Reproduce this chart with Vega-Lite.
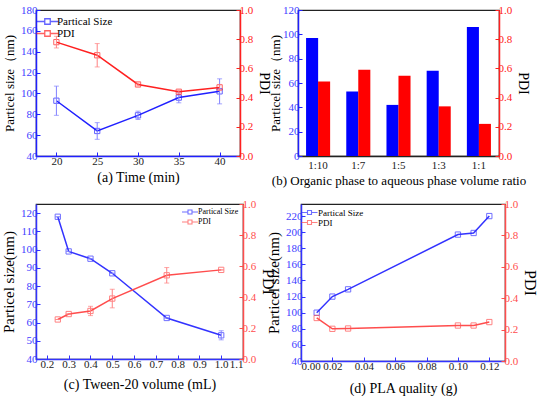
{
  "$schema": "https://vega.github.io/schema/vega-lite/v6.json",
  "padding": {"left": 0, "top": 3, "right": 0, "bottom": 0},
  "config": {
    "font": "'Liberation Serif', 'Times New Roman', serif",
    "view": {"stroke": "#222222", "strokeWidth": 1.2},
    "axis": {
      "grid": false,
      "labelFont": "'Liberation Serif', 'Times New Roman', serif",
      "titleFont": "'Liberation Serif', 'Times New Roman', serif",
      "labelFontSize": 11,
      "titleFontSize": 14,
      "titleFontWeight": "normal",
      "titleColor": "black",
      "labelColor": "#222222",
      "domainWidth": 1.5,
      "tickSize": -4,
      "labelPadding": 3
    },
    "legend": {"labelFont": "'Liberation Serif', 'Times New Roman', serif", "rowPadding": 0}
  },
  "spacing": 9,
  "vconcat": [
    {
      "spacing": -4,
      "resolve": {"scale": {"color": "independent"}, "legend": {"color": "independent"}},
      "hconcat": [
        {
          "width": 204,
          "height": 146,
          "data": {"values": [
            {"time": 20, "size": 93, "size_err": 14, "pdi": 0.78, "pdi_err": 0.04},
            {"time": 25, "size": 64, "size_err": 8, "pdi": 0.69, "pdi_err": 0.08},
            {"time": 30, "size": 79, "size_err": 4, "pdi": 0.49, "pdi_err": 0.01},
            {"time": 35, "size": 96, "size_err": 5, "pdi": 0.44, "pdi_err": 0.01},
            {"time": 40, "size": 102, "size_err": 12, "pdi": 0.47, "pdi_err": 0.02}
          ]},
          "encoding": {
            "x": {"field": "time", "type": "quantitative", "scale": {"domain": [17.5, 42.5]},
              "axis": {"values": [20, 25, 30, 35, 40], "title": "(a) Time (min)", "domainColor": "#2020ff", "tickColor": "#2020ff"}}
          },
          "layer": [
            {
              "encoding": {
                "y": {"field": "size", "type": "quantitative", "scale": {"domain": [40, 180]},
                  "axis": {"orient": "left", "title": "Particel size（nm)", "titleFontSize": 13, "values": [40, 60, 80, 100, 120, 140, 160, 180], "labelColor": "#4040ff", "domainColor": "#2020ff", "tickColor": "#2020ff"}},
                "color": {"datum": "Partical Size", "type": "nominal",
                  "scale": {"domain": ["Partical Size", "PDI"], "range": ["#2020ff", "#ff2020"]},
                  "legend": {"orient": "top-left", "title": null, "labelFontSize": 11, "symbolType": "M-4,0H-1M1,0H4M-1,-1H1V1H-1Z", "symbolSize": 30, "symbolStrokeWidth": 1.3, "symbolFillColor": "transparent", "rowPadding": 0, "offset": 6}}
              },
              "layer": [
                {"mark": {"type": "line", "strokeWidth": 1.5}},
                {"mark": {"type": "point", "shape": "square", "filled": false, "size": 28, "strokeWidth": 1}},
                {"mark": {"type": "errorbar", "ticks": true, "color": "#8080ff"}, "encoding": {"yError": {"field": "size_err"}, "color": {"value": "#8080ff"}}}
              ]
            },
            {
              "encoding": {
                "y": {"field": "pdi", "type": "quantitative", "scale": {"domain": [0, 1]},
                  "axis": {"orient": "right", "title": "PDI", "format": ".1f", "values": [0, 0.2, 0.4, 0.6, 0.8, 1.0], "labelColor": "#ff2020", "domainColor": "#ff2020", "tickColor": "#ff2020"}},
                "color": {"datum": "PDI", "type": "nominal"}
              },
              "layer": [
                {"mark": {"type": "line", "strokeWidth": 1.5}},
                {"mark": {"type": "point", "shape": "square", "filled": false, "size": 28, "strokeWidth": 1}},
                {"mark": {"type": "errorbar", "ticks": true, "color": "#ff8080"}, "encoding": {"yError": {"field": "pdi_err"}, "color": {"value": "#ff8080"}}}
              ]
            }
          ],
          "resolve": {"scale": {"y": "independent"}}
        },
        {
          "width": 201,
          "height": 146,
          "data": {"values": [
            {"ratio": "1:10", "size": 97, "pdi": 0.51},
            {"ratio": "1:7", "size": 53, "pdi": 0.59},
            {"ratio": "1:5", "size": 42, "pdi": 0.55},
            {"ratio": "1:3", "size": 70, "pdi": 0.34},
            {"ratio": "1:1", "size": 106, "pdi": 0.22}
          ]},
          "encoding": {
            "x": {"field": "ratio", "type": "nominal", "sort": null, "scale": {"paddingInner": 0, "paddingOuter": 0},
              "axis": {"labelAngle": 0, "title": "(b)  Organic phase to aqueous phase volume ratio", "titleFontSize": 13, "ticks": false, "domainColor": "#222222"}}
          },
          "layer": [
            {
              "mark": {"type": "bar", "width": {"band": 0.3}, "xOffset": -6, "color": "#0000ff"},
              "encoding": {
                "y": {"field": "size", "type": "quantitative", "scale": {"domain": [0, 120]},
                  "axis": {"orient": "left", "title": "Particel size（nm)", "titleFontSize": 13, "titlePadding": 0, "values": [0, 20, 40, 60, 80, 100, 120], "labelColor": "#4040ff", "domainColor": "#2020ff", "tickColor": "#2020ff"}}
              }
            },
            {
              "mark": {"type": "bar", "width": {"band": 0.3}, "xOffset": 6, "color": "#ff0000"},
              "encoding": {
                "y": {"field": "pdi", "type": "quantitative", "scale": {"domain": [0, 1]},
                  "axis": {"orient": "right", "title": "PDI", "format": ".1f", "values": [0, 0.2, 0.4, 0.6, 0.8, 1.0], "labelColor": "#ff2020", "domainColor": "#ff2020", "tickColor": "#ff2020"}}
              }
            }
          ],
          "resolve": {"scale": {"y": "independent"}}
        }
      ]
    },
    {
      "spacing": -12,
      "resolve": {"scale": {"color": "independent"}, "legend": {"color": "independent"}},
      "hconcat": [
        {
          "width": 207,
          "height": 155,
          "data": {"values": [
            {"vol": 0.25, "size": 118, "size_err": 0, "pdi": 0.255, "pdi_err": 0},
            {"vol": 0.3, "size": 99, "size_err": 0, "pdi": 0.29, "pdi_err": 0},
            {"vol": 0.4, "size": 95, "size_err": 0, "pdi": 0.31, "pdi_err": 0.03},
            {"vol": 0.5, "size": 87, "size_err": 0, "pdi": 0.39, "pdi_err": 0.06},
            {"vol": 0.75, "size": 62.5, "size_err": 0, "pdi": 0.54, "pdi_err": 0.05},
            {"vol": 1.0, "size": 53, "size_err": 2.5, "pdi": 0.575, "pdi_err": 0}
          ]},
          "encoding": {
            "x": {"field": "vol", "type": "quantitative", "scale": {"domain": [0.15, 1.1]},
              "axis": {"values": [0.2, 0.3, 0.4, 0.5, 0.6, 0.7, 0.8, 0.9, 1.0, 1.1], "format": ".1f", "title": "(c) Tween-20 volume (mL)", "titlePadding": 8, "domainColor": "#3333ff", "tickColor": "#3333ff"}}
          },
          "layer": [
            {
              "encoding": {
                "y": {"field": "size", "type": "quantitative", "scale": {"domain": [40, 125]},
                  "axis": {"orient": "left", "title": "Particel size(nm)", "titleFontSize": 15, "values": [40, 50, 60, 70, 80, 90, 100, 110, 120], "labelColor": "#4040ff", "domainColor": "#3333ff", "tickColor": "#3333ff"}},
                "color": {"datum": "Partical Size", "type": "nominal",
                  "scale": {"domain": ["Partical Size", "PDI"], "range": ["#3333ff", "#ff4d4d"]},
                  "legend": {"orient": "top-right", "title": null, "labelFontSize": 8, "symbolType": "M-4,0H-1M1,0H4M-1,-1H1V1H-1Z", "symbolSize": 16, "symbolStrokeWidth": 1.1, "symbolFillColor": "transparent", "rowPadding": 0, "offset": 4}}
              },
              "layer": [
                {"mark": {"type": "line", "strokeWidth": 1.5}},
                {"mark": {"type": "point", "shape": "square", "filled": false, "size": 28, "strokeWidth": 1}},
                {"mark": {"type": "errorbar", "ticks": true, "color": "#8080ff"}, "encoding": {"yError": {"field": "size_err"}, "color": {"value": "#8080ff"}}}
              ]
            },
            {
              "encoding": {
                "y": {"field": "pdi", "type": "quantitative", "scale": {"domain": [0, 1]},
                  "axis": {"orient": "right", "title": "PDI", "titleFontSize": 16, "format": ".1f", "values": [0, 0.2, 0.4, 0.6, 0.8, 1.0], "labelColor": "#ff4d4d", "domainColor": "#ff4d4d", "tickColor": "#ff4d4d"}},
                "color": {"datum": "PDI", "type": "nominal"}
              },
              "layer": [
                {"mark": {"type": "line", "strokeWidth": 1.5}},
                {"mark": {"type": "point", "shape": "square", "filled": false, "size": 28, "strokeWidth": 1}},
                {"mark": {"type": "errorbar", "ticks": true, "color": "#ff8080"}, "encoding": {"yError": {"field": "pdi_err"}, "color": {"value": "#ff8080"}}}
              ]
            }
          ],
          "resolve": {"scale": {"y": "independent"}}
        },
        {
          "width": 204,
          "height": 157,
          "data": {"values": [
            {"pla": 0.01, "size": 100, "pdi": 0.274},
            {"pla": 0.02, "size": 120, "pdi": 0.205},
            {"pla": 0.03, "size": 129, "pdi": 0.207},
            {"pla": 0.10, "size": 197, "pdi": 0.226},
            {"pla": 0.11, "size": 199, "pdi": 0.226},
            {"pla": 0.12, "size": 220, "pdi": 0.248}
          ]},
          "encoding": {
            "x": {"field": "pla", "type": "quantitative", "scale": {"domain": [0, 0.13]},
              "axis": {"values": [0, 0.02, 0.04, 0.06, 0.08, 0.1, 0.12], "format": ".2f", "title": "(d)  PLA quality (g)", "titlePadding": 10, "domainColor": "#3333ff", "tickColor": "#3333ff"}}
          },
          "layer": [
            {
              "encoding": {
                "y": {"field": "size", "type": "quantitative", "scale": {"domain": [40, 235]},
                  "axis": {"orient": "left", "title": "Particel size(nm)", "titleFontSize": 15, "values": [40, 60, 80, 100, 120, 140, 160, 180, 200, 220], "labelColor": "#4040ff", "domainColor": "#3333ff", "tickColor": "#3333ff"}},
                "color": {"datum": "Partical Size", "type": "nominal",
                  "scale": {"domain": ["Partical Size", "PDI"], "range": ["#3333ff", "#ff4d4d"]},
                  "legend": {"orient": "top-left", "title": null, "labelFontSize": 9, "symbolType": "M-4,0H-1M1,0H4M-1,-1H1V1H-1Z", "symbolSize": 16, "symbolStrokeWidth": 1.1, "symbolFillColor": "transparent", "rowPadding": 0, "offset": 4}}
              },
              "layer": [
                {"mark": {"type": "line", "strokeWidth": 1.5}},
                {"mark": {"type": "point", "shape": "square", "filled": false, "size": 28, "strokeWidth": 1}}
              ]
            },
            {
              "encoding": {
                "y": {"field": "pdi", "type": "quantitative", "scale": {"domain": [0, 1]},
                  "axis": {"orient": "right", "title": "PDI", "titleFontSize": 16, "format": ".1f", "values": [0, 0.2, 0.4, 0.6, 0.8, 1.0], "labelColor": "#ff4d4d", "domainColor": "#ff4d4d", "tickColor": "#ff4d4d"}},
                "color": {"datum": "PDI", "type": "nominal"}
              },
              "layer": [
                {"mark": {"type": "line", "strokeWidth": 1.5}},
                {"mark": {"type": "point", "shape": "square", "filled": false, "size": 28, "strokeWidth": 1}}
              ]
            }
          ],
          "resolve": {"scale": {"y": "independent"}}
        }
      ]
    }
  ]
}
